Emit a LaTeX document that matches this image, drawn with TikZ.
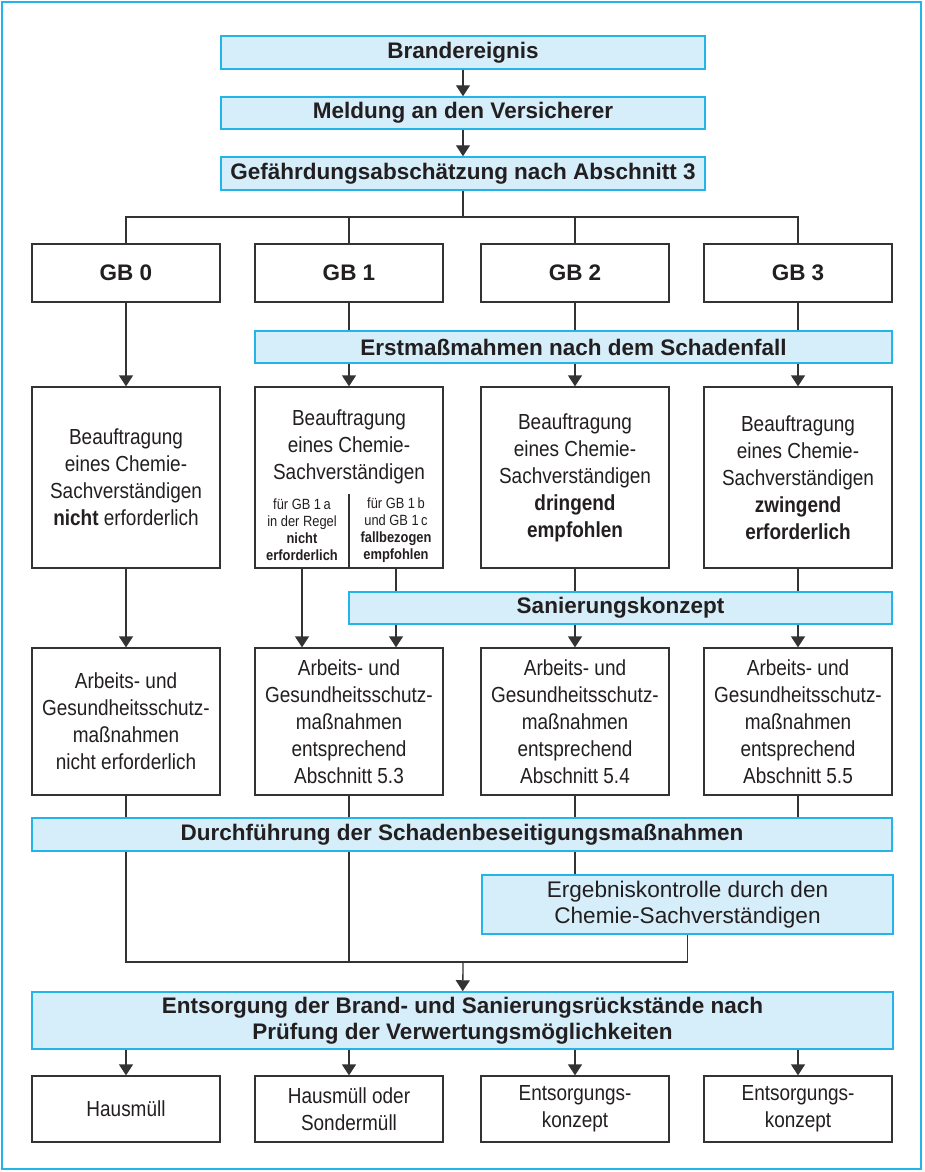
\documentclass[tikz,border=0pt]{standalone}
\usepackage{fontspec}
\setmainfont{Liberation Sans}
\newfontfamily\condfont{Liberation Sans}[FakeStretch=0.87]
\usetikzlibrary{arrows.meta}

\definecolor{ink}{HTML}{231F20}
\definecolor{boxline}{HTML}{25B4EA}
\definecolor{boxfill}{HTML}{D5EEF9}
\definecolor{wireline}{HTML}{333333}

\tikzset{
  >={Triangle[width=14pt,length=11pt]},
  bluebox/.style={draw=boxline,fill=boxfill,line width=1.5pt,inner sep=0pt,align=center,text=ink,
    font=\fontsize{22.5}{26}\selectfont\bfseries},
  whitebox/.style={draw=wireline,fill=white,line width=1.3pt,inner sep=0pt,align=center,text=ink,
    minimum width=188pt,font=\condfont\fontsize{21.8}{27}\selectfont},
  smalltext/.style={inner sep=0pt,align=center,text=ink,font=\condfont\fontsize{14.8}{17}\selectfont},
  wire/.style={draw=wireline,line width=1.3pt}
}

\begin{document}
\begin{tikzpicture}[x=1pt,y=-1pt]
    \useasboundingbox (0,0) rectangle (924,1172);
    \draw[boxline,line width=2pt] (2,2) rectangle (921,1169);

    % top chain
    \node[bluebox,minimum width=484pt,minimum height=33pt] (brand) at (463,52.5) {Brandereignis};
    \node[bluebox,minimum width=484pt,minimum height=32pt] (meld) at (463,113) {Meldung an den Versicherer};
    \node[bluebox,minimum width=484pt,minimum height=33pt] (gef) at (463,173.5) {Gefährdungsabschätzung nach Abschnitt 3};
    \draw[wire,->] (brand) -- (meld);
    \draw[wire,->] (meld) -- (gef);

    % hazard classes
    \node[whitebox,minimum height=58pt,font=\fontsize{22.5}{26}\selectfont\bfseries] (gb0) at (126,273) {GB 0};
    \node[whitebox,minimum height=58pt,font=\fontsize{22.5}{26}\selectfont\bfseries] (gb1) at (349,273) {GB 1};
    \node[whitebox,minimum height=58pt,font=\fontsize{22.5}{26}\selectfont\bfseries] (gb2) at (575,273) {GB 2};
    \node[whitebox,minimum height=58pt,font=\fontsize{22.5}{26}\selectfont\bfseries] (gb3) at (798,273) {GB 3};
    \coordinate (split) at (463,217);
    \draw[wire] (gef) -- (split);
    \draw[wire] (gb0) |- (split) -| (gb3);
    \draw[wire] (gb1.north) -- (gb1 |- split);
    \draw[wire] (gb2.north) -- (gb2 |- split);

    \node[bluebox,minimum width=637pt,minimum height=32pt] (erst) at (573.5,347) {Erstmaßmahmen nach dem Schadenfall};

    % expert
    \node[whitebox,minimum height=181pt] (bf0) at (126,477.5)
        {Beauftragung\\eines Chemie-\\Sachverständigen\\\textbf{nicht} erforderlich};
    \node[whitebox,minimum height=181pt] (bf1) at (349,477.5) {};
    \node[whitebox,draw=none,fill=none,minimum width=0pt] (bf1t) at (349,447)
        {Beauftragung\\eines Chemie-\\Sachverständigen};
    \node[smalltext] (bf1a) at (302,530) {für GB 1\,a\\in der Regel\\\textbf{nicht}\\\textbf{erforderlich}};
    \node[smalltext] (bf1b) at (396,530) {für GB 1\,b\\und GB 1\,c\\\textbf{fallbezogen}\\\textbf{empfohlen}};
    \draw[wire] (bf1.south) -- ++(0,-75);
    \node[whitebox,minimum height=181pt] (bf2) at (575,477.5)
        {Beauftragung\\eines Chemie-\\Sachverständigen\\\textbf{dringend}\\\textbf{empfohlen}};
    \node[whitebox,minimum height=181pt] (bf3) at (798,477.5)
        {Beauftragung\\eines Chemie-\\Sachverständigen\\\textbf{zwingend}\\\textbf{erforderlich}};

    \draw[wire,->] (gb0) -- (bf0);
    \draw[wire] (gb1.south) -- (gb1 |- erst.north);
    \draw[wire] (gb2.south) -- (gb2 |- erst.north);
    \draw[wire] (gb3.south) -- (gb3 |- erst.north);
    \draw[wire,->] (gb1 |- erst.south) -- (bf1);
    \draw[wire,->] (gb2 |- erst.south) -- (bf2);
    \draw[wire,->] (gb3 |- erst.south) -- (bf3);

    \node[bluebox,minimum width=543pt,minimum height=32pt] (san) at (620.5,608) {Sanierungskonzept};

    % protection measures
    \node[whitebox,minimum height=147pt] (ar0) at (126,721.5)
        {Arbeits- und\\Gesundheitsschutz-\\maßnahmen\\nicht erforderlich};
    \node[whitebox,minimum height=147pt] (ar1) at (349,721.5)
        {Arbeits- und\\Gesundheitsschutz-\\maßnahmen\\entsprechend\\Abschnitt 5.3};
    \node[whitebox,minimum height=147pt] (ar2) at (575,721.5)
        {Arbeits- und\\Gesundheitsschutz-\\maßnahmen\\entsprechend\\Abschnitt 5.4};
    \node[whitebox,minimum height=147pt] (ar3) at (798,721.5)
        {Arbeits- und\\Gesundheitsschutz-\\maßnahmen\\entsprechend\\Abschnitt 5.5};

    \draw[wire,->] (bf0) -- (ar0);
    \draw[wire,->] (bf1a |- bf1.south) -- (bf1a |- ar1.north);
    \draw[wire] (bf1b |- bf1.south) -- (bf1b |- san.north);
    \draw[wire] (bf2.south) -- (bf2 |- san.north);
    \draw[wire] (bf3.south) -- (bf3 |- san.north);
    \draw[wire,->] (bf1b |- san.south) -- (bf1b |- ar1.north);
    \draw[wire,->] (bf2 |- san.south) -- (ar2);
    \draw[wire,->] (bf3 |- san.south) -- (ar3);

    % remediation
    \node[bluebox,minimum width=860pt,minimum height=33pt] (du) at (462,834.5) {Durchführung der Schadenbeseitigungsmaßnahmen};
    \node[bluebox,minimum width=411pt,minimum height=59pt,font=\fontsize{22.6}{26.5}\selectfont] (erg) at (687.5,904.5)
        {Ergebniskontrolle durch den\\Chemie-Sachverständigen};
    \foreach \k in {0,...,3}
        \draw[wire] (ar\k.south) -- (ar\k |- du.north);
    \draw[wire] (ar2 |- du.south) -- (ar2 |- erg.north);

    \node[bluebox,minimum width=861pt,minimum height=57pt] (ent) at (462.5,1020.5)
        {Entsorgung der Brand- und Sanierungsrückstände nach\\Prüfung der Verwertungsmöglichkeiten};
    \coordinate (join) at (463,962);
    \draw[wire] (ar0 |- du.south) |- (erg.south |- join) -- (erg.south);
    \draw[wire] (ar1 |- du.south) -- (ar1 |- join);
    \draw[wire,->] (join) -- (ent);

    % disposal
    \node[whitebox,minimum height=66pt] (dp0) at (126,1109) {Hausmüll};
    \node[whitebox,minimum height=66pt] (dp1) at (349,1109) {Hausmüll oder\\Sondermüll};
    \node[whitebox,minimum height=66pt] (dp2) at (575,1109) {Entsorgungs-\\konzept};
    \node[whitebox,minimum height=66pt] (dp3) at (798,1109) {Entsorgungs-\\konzept};
    \foreach \k in {0,...,3}
        \draw[wire,->] (dp\k |- ent.south) -- (dp\k);
\end{tikzpicture}
\end{document}
